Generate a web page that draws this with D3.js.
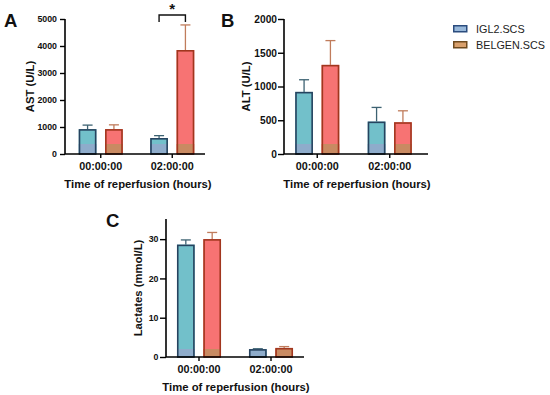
<!DOCTYPE html>
<html>
<head>
<meta charset="utf-8">
<script src="https://cdn.jsdelivr.net/npm/d3@7"></script>
<style>
  body { margin: 0; background: white; }
  svg { display: block; font-family: "Liberation Sans", Arial, sans-serif; }
</style>
</head>
<body>
<svg width="550" height="395"></svg>
<script>
const categories = ['00:00:00', '02:00:00'];
const series = ['IGL2.SCS', 'BELGEN.SCS'];

// means and SD (upper error bar only)
const astIGL2 = [920, 590];
const astIGL2Sd = [150, 90];
const astBelgen = [920, 3850];
const astBelgenSd = [160, 930];

const altIGL2 = [920, 480];
const altIGL2Sd = [180, 210];
const altBelgen = [1320, 470];
const altBelgenSd = [360, 170];

const lacIGL2 = [28.6, 2.0];
const lacIGL2Sd = [1.2, 0.1];
const lacBelgen = [30.0, 2.3];
const lacBelgenSd = [1.7, 0.35];

const astTicks = [0, 1000, 2000, 3000, 4000, 5000];
const altTicks = [0, 500, 1000, 1500, 2000];
const lacTicks = [0, 10, 20, 30];

const fills = ['#72c0ca', '#f77373'];
const strokes = ['#26435f', '#a1361e'];
const baseFills = ['#8eaccb', '#c98a62'];
const errColors = ['#3d6272', '#c07c5c'];
const legendFills = ['#98b8da', '#d9a06c'];
const legendStrokes = ['#2b4c7e', '#6e4a1e'];

const svg = d3.select('svg');
const FONT = '"Liberation Sans", Arial, sans-serif';

function panel(opt) {
  const g = svg.append('g');
  const y = d3.scaleLinear().domain(opt.domain).range([opt.y0, opt.y1]);
  const x = d3.scaleBand().domain(categories).range(opt.band);
  const xi = d3.scaleBand().domain(series).range([-22, 22]).paddingInner(0.33);

  const rows = [];
  categories.forEach((c, i) => {
    rows.push({ c, s: 0, v: opt.a[i], sd: opt.aSd[i] });
    rows.push({ c, s: 1, v: opt.b[i], sd: opt.bSd[i] });
  });

  const bx = d => x(d.c) + x.bandwidth() / 2 + xi(series[d.s]);
  const bw = xi.bandwidth();

  // error bars (upper only)
  const err = g.append('g');
  rows.forEach(d => {
    const cx = bx(d) + bw / 2;
    err.append('line')
      .attr('x1', cx).attr('x2', cx)
      .attr('y1', y(d.v)).attr('y2', y(d.v + d.sd))
      .attr('stroke', errColors[d.s]).attr('stroke-width', 1.3);
    err.append('line')
      .attr('x1', cx - 5).attr('x2', cx + 5)
      .attr('y1', y(d.v + d.sd)).attr('y2', y(d.v + d.sd))
      .attr('stroke', errColors[d.s]).attr('stroke-width', 1.3);
  });

  // bars
  g.selectAll('rect.bar').data(rows).join('rect')
    .attr('class', 'bar')
    .attr('x', bx)
    .attr('y', d => y(d.v))
    .attr('width', bw)
    .attr('height', d => y(0) - y(d.v))
    .attr('fill', d => fills[d.s]);

  g.selectAll('rect.base').data(rows).join('rect')
    .attr('class', 'base')
    .attr('x', bx)
    .attr('y', d => Math.max(y(d.v), y(0) - opt.baseH))
    .attr('width', bw)
    .attr('height', d => Math.min(y(0) - y(d.v), opt.baseH))
    .attr('fill', d => baseFills[d.s]);

  g.selectAll('rect.outline').data(rows).join('rect')
    .attr('class', 'outline')
    .attr('x', d => bx(d) + 0.75)
    .attr('y', d => y(d.v) + 0.75)
    .attr('width', bw - 1.5)
    .attr('height', d => y(0) - y(d.v) - 0.75)
    .attr('fill', 'none')
    .attr('stroke', d => strokes[d.s])
    .attr('stroke-width', 1.6);

  // y axis
  const ya = g.append('g')
    .attr('transform', `translate(${opt.xAxis},0)`)
    .call(d3.axisLeft(y).tickValues(opt.ticks).tickSize(opt.tickSize).tickPadding(opt.tickPad).tickFormat(d3.format('d')));
  ya.select('.domain').attr('d', `M0,${opt.yTop}V${y(0)}`).attr('stroke-width', 1.6);
  ya.selectAll('.tick line').attr('stroke-width', 1.4);
  ya.selectAll('.tick text').attr('font-size', opt.yFont).attr('font-weight', 'bold')
    .attr('font-family', FONT).attr('fill', '#111');

  // x axis
  const xa = g.append('g')
    .attr('transform', `translate(0,${y(0)})`)
    .call(d3.axisBottom(x).tickSize(4).tickPadding(4));
  xa.select('.domain').attr('d', `M${opt.xAxis},0H${opt.xEnd}`).attr('stroke-width', 1.6);
  xa.selectAll('.tick line').attr('stroke-width', 1.4);
  xa.selectAll('.tick text').attr('font-size', 10.8).attr('font-weight', 'bold')
    .attr('font-family', FONT).attr('fill', '#111');

  // axis titles
  g.append('text')
    .attr('x', opt.titleX)
    .attr('y', y(0) + 34)
    .attr('text-anchor', 'middle')
    .attr('font-size', 11.3).attr('font-weight', 'bold').attr('fill', '#111')
    .text('Time of reperfusion (hours)');

  g.append('text')
    .attr('transform', `translate(${opt.labelX},${(opt.yTop + y(0)) / 2}) rotate(-90)`)
    .attr('text-anchor', 'middle')
    .attr('dy', '0.35em')
    .attr('font-size', 11.3).attr('font-weight', 'bold').attr('fill', '#111')
    .text(opt.label);

  g.append('text')
    .attr('x', opt.letter[0]).attr('y', opt.letter[1])
    .attr('font-size', 18.5).attr('font-weight', 'bold').attr('fill', '#111')
    .text(opt.name);

  return { g, x, xi, y, bx, bw, rows };
}

const A = panel({
  name: 'A', letter: [4, 27], label: 'AST (U/L)', labelX: 30.5,
  domain: [0, 5000], y0: 154, y1: 19, yTop: 19, ticks: astTicks,
  band: [65, 208], xAxis: 65, xEnd: 205, baseH: 10, titleX: 138,
  yFont: 8.8, tickSize: 5, tickPad: 3,
  a: astIGL2, aSd: astIGL2Sd, b: astBelgen, bSd: astBelgenSd
});

panel({
  name: 'B', letter: [221, 27], label: 'ALT (U/L)', labelX: 246.5,
  domain: [0, 2000], y0: 154, y1: 19, yTop: 19, ticks: altTicks,
  band: [281, 426], xAxis: 284, xEnd: 428, baseH: 10, titleX: 357,
  yFont: 10.2, tickSize: 6, tickPad: 1,
  a: altIGL2, aSd: altIGL2Sd, b: altBelgen, bSd: altBelgenSd
});

panel({
  name: 'C', letter: [106, 227], label: 'Lactates (mmol/L)', labelX: 138,
  domain: [0, 35], y0: 357, y1: 219.5, yTop: 219, ticks: lacTicks,
  band: [163, 307], xAxis: 166, xEnd: 304, baseH: 8, titleX: 236,
  yFont: 8.8, tickSize: 6, tickPad: 1.5,
  a: lacIGL2, aSd: lacIGL2Sd, b: lacBelgen, bSd: lacBelgenSd
});

// significance bracket on AST at 02:00:00
const sigL = A.bx(A.rows[2]) + A.bw / 2;
const sigR = A.bx(A.rows[3]) + A.bw / 2;
A.g.append('path')
  .attr('d', `M${sigL},22V15H${sigR}V22`)
  .attr('fill', 'none').attr('stroke', '#111').attr('stroke-width', 1.4);
A.g.append('text')
  .attr('x', (sigL + sigR) / 2).attr('y', 13.5)
  .attr('text-anchor', 'middle')
  .attr('font-size', 15).attr('font-weight', 'bold').attr('fill', '#111')
  .text('*');

// legend
const legend = svg.append('g').attr('transform', 'translate(453,25)');
series.forEach((s, i) => {
  const row = legend.append('g').attr('transform', `translate(0,${i * 16})`);
  row.append('rect')
    .attr('x', 0.75).attr('y', 0.75).attr('width', 13).attr('height', 6)
    .attr('fill', legendFills[i]).attr('stroke', legendStrokes[i]).attr('stroke-width', 1.5);
  row.append('text')
    .attr('x', 23).attr('y', 4).attr('dy', '0.35em')
    .attr('font-size', 10.8).attr('fill', '#222')
    .text(s);
});
</script>
</body>
</html>
